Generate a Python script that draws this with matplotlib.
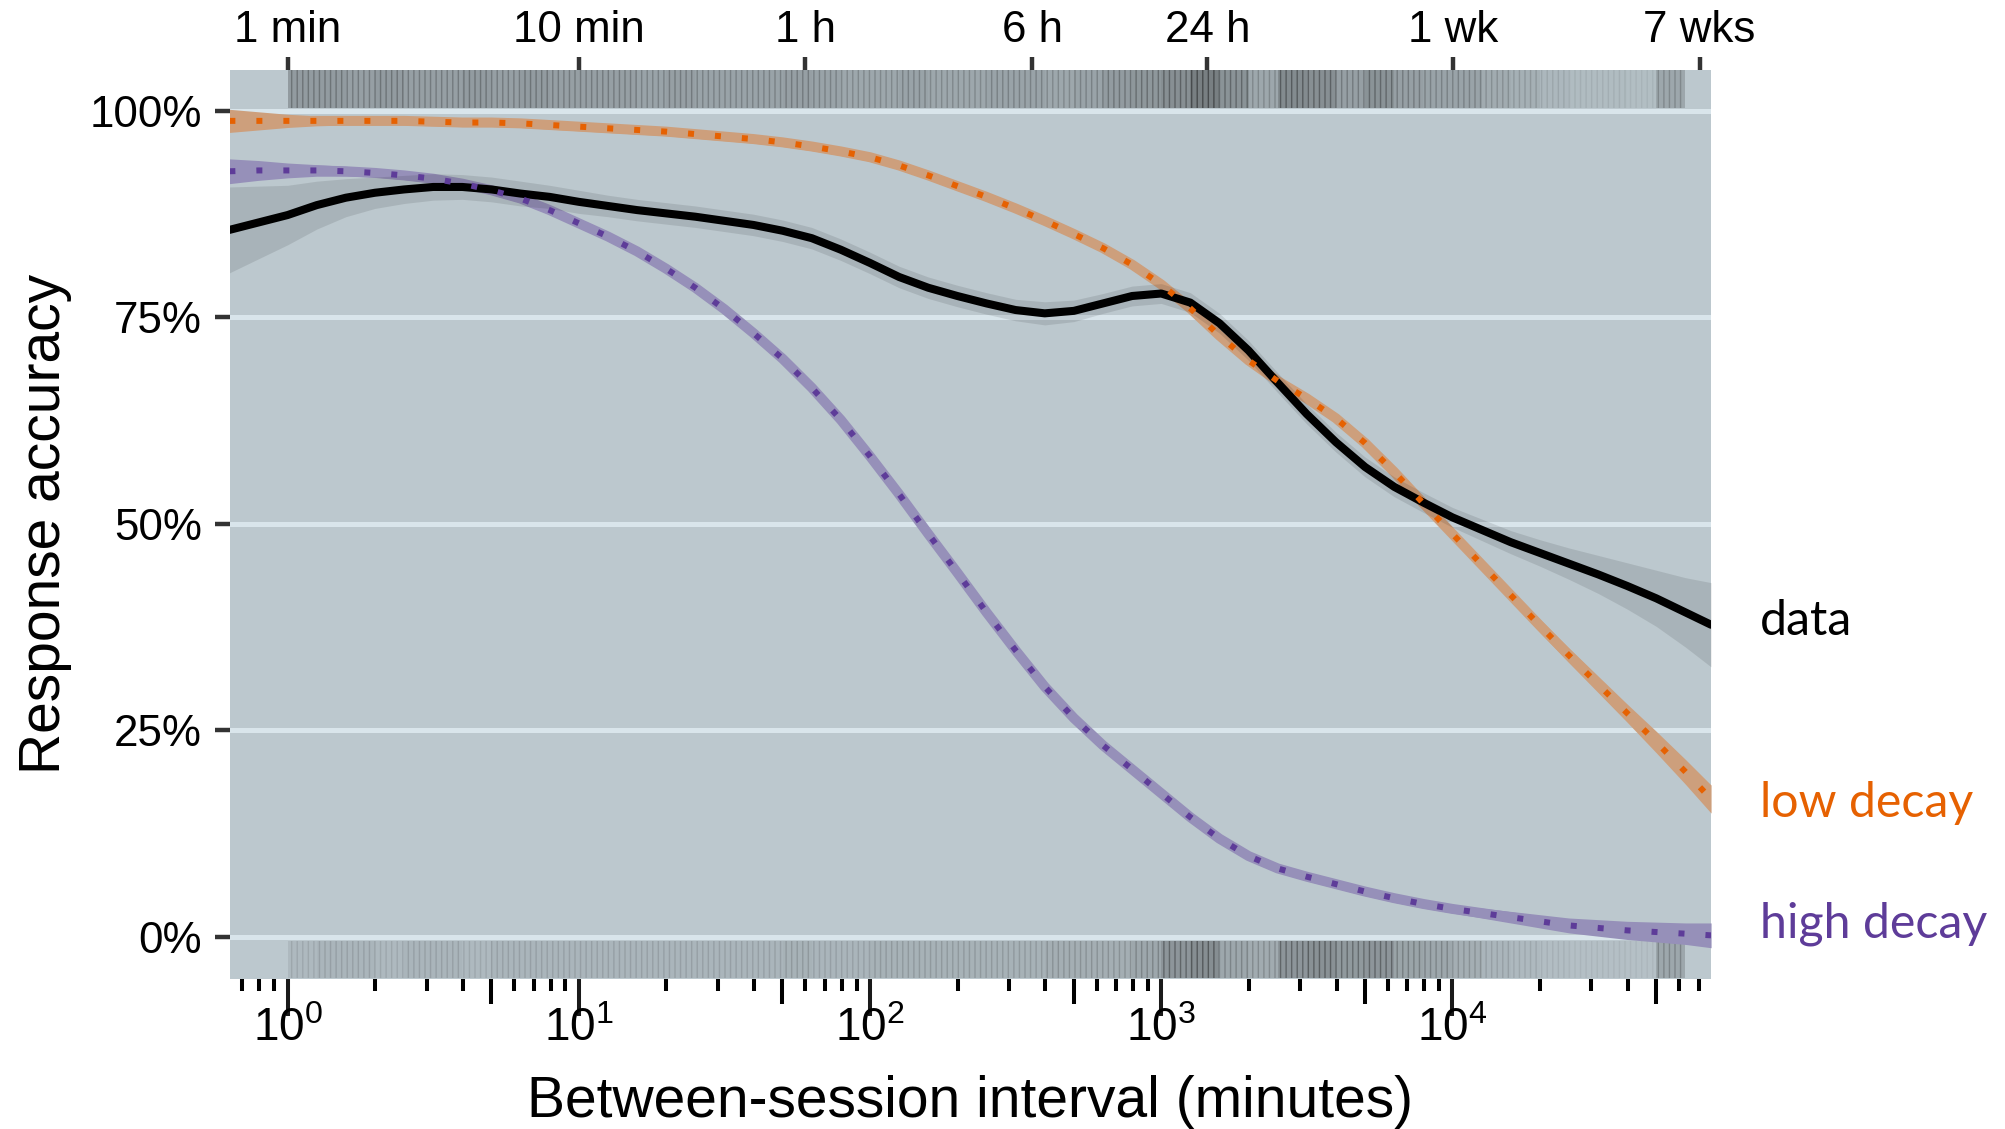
import numpy as np
import matplotlib
matplotlib.use('Agg')
import matplotlib.pyplot as plt
from matplotlib import ticker, transforms, colors as mcolors

plt.rcParams['font.family'] = ['Liberation Sans', 'DejaVu Sans']
plt.rcParams['mathtext.fontset'] = 'custom'
plt.rcParams['mathtext.rm'] = 'Liberation Sans'
plt.rcParams['mathtext.default'] = 'regular'
plt.rcParams['hatch.linewidth'] = 0.5

# between-session interval (minutes), 0.1-decade steps
interval = [0.631, 0.794, 1.0, 1.259, 1.585, 1.995, 2.512, 3.162, 3.981, 5.012,
            6.310, 7.943, 10, 12.59, 15.85, 19.95, 25.12, 31.62, 39.81, 50.12,
            63.10, 79.43, 100, 125.9, 158.5, 199.5, 251.2, 316.2, 398.1, 501.2,
            631.0, 794.3, 1000, 1259, 1585, 1995, 2512, 3162, 3981, 5012,
            6310, 7943, 10000, 12589, 15849, 19953, 25119, 31623, 39811, 50119,
            63096, 77300]

# smoothed response accuracy: observed data
acc_data = [0.856, 0.865, 0.874, 0.886, 0.895, 0.901, 0.905, 0.908, 0.908, 0.905,
            0.900, 0.896, 0.890, 0.885, 0.880, 0.876, 0.872, 0.867, 0.862, 0.855,
            0.846, 0.832, 0.816, 0.799, 0.786, 0.776, 0.767, 0.759, 0.755, 0.758,
            0.767, 0.776, 0.779, 0.768, 0.743, 0.710, 0.671, 0.633, 0.599, 0.569,
            0.545, 0.526, 0.508, 0.493, 0.478, 0.465, 0.452, 0.439, 0.425, 0.410,
            0.393, 0.378]
se_data = [0.052, 0.044, 0.036, 0.029, 0.023, 0.019, 0.017, 0.016, 0.015, 0.015,
           0.015, 0.014, 0.014, 0.013, 0.013, 0.013, 0.013, 0.013, 0.013, 0.013,
           0.013, 0.013, 0.013, 0.013, 0.013, 0.013, 0.013, 0.013, 0.014, 0.013,
           0.012, 0.012, 0.012, 0.012, 0.012, 0.012, 0.012, 0.012, 0.012, 0.012,
           0.012, 0.012, 0.012, 0.013, 0.014, 0.016, 0.019, 0.023, 0.028, 0.034,
           0.042, 0.051]

# model predictions: low decay
acc_low = [0.988, 0.988, 0.988, 0.988, 0.988, 0.988, 0.988, 0.987, 0.986, 0.986,
           0.985, 0.983, 0.981, 0.979, 0.977, 0.975, 0.972, 0.969, 0.966, 0.962,
           0.957, 0.951, 0.944, 0.934, 0.922, 0.909, 0.896, 0.882, 0.867, 0.851,
           0.834, 0.814, 0.790, 0.761, 0.728, 0.698, 0.673, 0.652, 0.628, 0.598,
           0.563, 0.525, 0.488, 0.451, 0.414, 0.377, 0.341, 0.306, 0.271, 0.236,
           0.200, 0.167]
se_low = [0.014, 0.011, 0.008, 0.006, 0.005, 0.005, 0.005, 0.005, 0.005, 0.005,
          0.005, 0.005, 0.005, 0.005, 0.005, 0.005, 0.005, 0.005, 0.005, 0.005,
          0.005, 0.005, 0.005, 0.005, 0.005, 0.005, 0.005, 0.005, 0.005, 0.005,
          0.005, 0.005, 0.005, 0.005, 0.005, 0.005, 0.005, 0.005, 0.005, 0.005,
          0.005, 0.005, 0.005, 0.006, 0.007, 0.008, 0.009, 0.010, 0.011, 0.013,
          0.015, 0.017]

# model predictions: high decay
acc_high = [0.927, 0.928, 0.928, 0.928, 0.927, 0.925, 0.922, 0.918, 0.912, 0.904,
            0.894, 0.880, 0.864, 0.848, 0.830, 0.809, 0.786, 0.760, 0.731, 0.700,
            0.665, 0.626, 0.582, 0.536, 0.488, 0.441, 0.393, 0.347, 0.303, 0.265,
            0.232, 0.203, 0.174, 0.145, 0.119, 0.098, 0.083, 0.073, 0.064, 0.055,
            0.047, 0.040, 0.034, 0.029, 0.024, 0.019, 0.014, 0.011, 0.008, 0.006,
            0.004, 0.002]
se_high = [0.015, 0.012, 0.009, 0.007, 0.006, 0.005, 0.005, 0.005, 0.005, 0.005,
           0.005, 0.005, 0.005, 0.005, 0.005, 0.005, 0.005, 0.005, 0.005, 0.005,
           0.005, 0.005, 0.005, 0.005, 0.005, 0.005, 0.005, 0.005, 0.005, 0.005,
           0.005, 0.005, 0.005, 0.005, 0.005, 0.005, 0.005, 0.005, 0.005, 0.005,
           0.005, 0.005, 0.005, 0.006, 0.007, 0.008, 0.009, 0.010, 0.011, 0.012,
           0.013, 0.015]

# density of individual responses per 0.1-decade bin (1 min .. 10^4.8 min)
rug_correct = [0.55, 0.55, 0.50, 0.55, 0.50, 0.50, 0.55, 0.50, 0.55, 0.50,
               0.50, 0.50, 0.45, 0.50, 0.45, 0.45, 0.45, 0.50, 0.45, 0.40,
               0.40, 0.45, 0.40, 0.40, 0.45, 0.45, 0.40, 0.45, 0.55, 0.60,
               0.70, 0.90, 0.65, 0.40, 0.75, 0.70, 0.50, 0.65, 0.50, 0.45,
               0.45, 0.35, 0.30, 0.20, 0.15, 0.15, 0.12, 0.40]
rug_incorrect = [0.20, 0.25, 0.25, 0.20, 0.25, 0.25, 0.20, 0.25, 0.25, 0.25,
                 0.25, 0.25, 0.25, 0.25, 0.25, 0.25, 0.25, 0.30, 0.25, 0.25,
                 0.30, 0.30, 0.30, 0.30, 0.30, 0.30, 0.35, 0.35, 0.35, 0.45,
                 0.70, 0.80, 0.45, 0.40, 0.70, 0.75, 0.65, 0.70, 0.50, 0.45,
                 0.35, 0.25, 0.20, 0.15, 0.12, 0.12, 0.10, 0.45]

top_ticks = [1, 10, 60, 360, 1440, 10080, 70560]
top_labels = ['1 min', '10 min', '1 h', '6 h', '24 h', '1 wk', '7 wks']

BG = '#bcc8ce'
GRID = '#d9e5eb'
ORANGE = '#e66101'
PURPLE = '#5e3c99'


def blend(c, a, base=BG):
    c = np.array(mcolors.to_rgb(c))
    b = np.array(mcolors.to_rgb(base))
    return tuple(a * c + (1 - a) * b)


x = np.array(interval)
fig = plt.figure(figsize=(10.025, 5.645), dpi=200)
ax = fig.add_axes([0.1147, 0.1329, 0.7387, 0.8051])
ax.set_facecolor(BG)
ax.set_xscale('log')
ax.set_xlim(0.634, 77300)
ax.set_ylim(-0.0508, 1.0496)
for s in ax.spines.values():
    s.set_visible(False)
ax.yaxis.grid(True, color=GRID, lw=1.8)
ax.set_axisbelow(True)

# rug of responses: correct on top, incorrect below
edges = x[2:51]
widths = np.diff(edges)
for dens, y0, h, k in [(rug_correct, 1.003, 0.046, 0.45), (rug_incorrect, -0.0495, 0.045, 0.4)]:
    ax.bar(edges[:-1], h, width=widths, bottom=y0, align='edge', lw=0,
           color=[(0.08, 0.08, 0.08, k * v) for v in dens], zorder=1)
    ax.bar(edges[:-1], h, width=widths, bottom=y0, align='edge', lw=0,
           facecolor='none', hatch='||||||',
           edgecolor=[(0.05, 0.05, 0.05, min(1.0, 0.5 * v)) for v in dens], zorder=1)

# model bands
for y, se, col in [(acc_low, se_low, ORANGE), (acc_high, se_high, PURPLE)]:
    y = np.array(y); se = np.array(se)
    band = blend(col, 0.4)
    ax.fill_between(x, y - se, y + se, color=band, lw=0, zorder=2)
    ax.plot(x, y, color=band, lw=3.6, solid_capstyle='butt', zorder=2)

d = np.array(acc_data); sd = np.array(se_data)
ax.fill_between(x, d - sd, d + sd, color='black', alpha=0.1, lw=0, zorder=3)
ax.plot(x, d, color='black', lw=2.9, solid_capstyle='round', zorder=4)

for y, col in [(acc_low, ORANGE), (acc_high, PURPLE)]:
    ax.plot(x, y, color=col, lw=2.16, linestyle=(0, (1, 3.5)),
            dash_capstyle='butt', zorder=5)

# y axis
ax.set_yticks([0, 0.25, 0.5, 0.75, 1.0])
ax.yaxis.set_major_formatter(ticker.PercentFormatter(1.0, decimals=0))
ax.tick_params(axis='y', length=5.4, width=1.6, color='#333333', pad=4.7,
               labelsize=15.8, labelcolor='black')

# bottom log ticks
ax.xaxis.set_major_locator(ticker.LogLocator(base=10, numticks=20))
ax.xaxis.set_minor_locator(ticker.LogLocator(base=10, subs=(2, 3, 4, 6, 7, 8, 9), numticks=20))
ax.xaxis.set_minor_formatter(ticker.NullFormatter())
ax.tick_params(axis='x', which='major', length=13.3, width=1.45, color='#1a1a1a',
               pad=-3.2, labelsize=16.5)
ax.tick_params(axis='x', which='minor', length=4.3, width=1.45, color='black')

mid = ax.secondary_xaxis('bottom')
mid.set_xticks([5, 50, 500, 5000, 50000])
mid.xaxis.set_minor_locator(ticker.NullLocator())
mid.tick_params(length=9, width=1.45, color='black', labelbottom=False)
mid.spines['bottom'].set_visible(False)

# top axis with calendar units
top = ax.secondary_xaxis('top')
top.set_xticks(top_ticks, labels=top_labels)
top.xaxis.set_minor_locator(ticker.NullLocator())
top.tick_params(length=4.7, width=1.6, color='#333333', pad=2, labelsize=15.8)
top.spines['top'].set_visible(False)

fig.text(0.0224, 0.5355, 'Response accuracy', rotation=90, ha='center', va='center',
         fontsize=20.5)
fig.text(0.4838, 0.0106, 'Between-session interval (minutes)', ha='center',
         va='baseline', fontsize=20.5)

# direct labels at line ends
trans = transforms.blended_transform_factory(ax.transAxes, ax.transData)
for lab, y, col, dy in [('data', acc_data, 'black', 1.4),
                        ('low decay', acc_low, ORANGE, -1.4),
                        ('high decay', acc_high, PURPLE, 4.3)]:
    ax.annotate(lab, xy=(1.0, y[-1]), xycoords=trans, xytext=(17.6, dy),
                textcoords='offset points', ha='left', va='center', color=col,
                fontsize=17.4, fontfamily=['Lato', 'DejaVu Sans'], annotation_clip=False)

fig.savefig('out.png', dpi=200)
